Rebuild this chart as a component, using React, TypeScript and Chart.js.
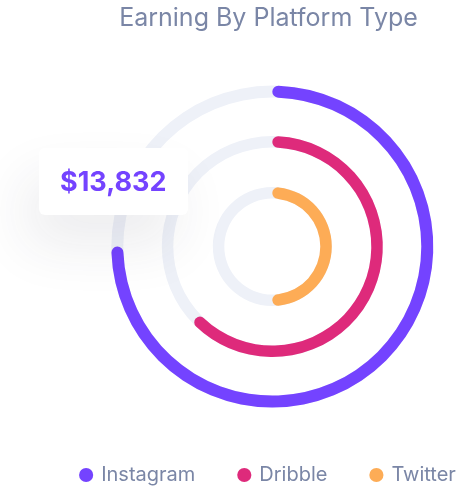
import React, { useEffect, useRef } from 'react';
import { Chart, registerables, layouts } from 'chart.js';

Chart.register(...registerables);

// ---- data ----
const TITLE = 'Earning By Platform Type';
const PLATFORMS = ['Instagram', 'Dribble', 'Twitter'];
const VALUES = [75, 63, 50];
const MAX_VALUE = 100;
const TOOLTIP_VALUE = '$13,832';

// ---- styles ----
const COLORS = ['#7443FF', '#DE2A7B', '#FDAC56'];
const TRACK = '#EEF1F8';
const TEXT = '#7A86A6';
const RING_WEIGHTS = [12, 11.5, 11.5];
const GAP_WEIGHTS = [38.5, 39.5];
const OUTER_RADIUS = 161;
const INNER_RADIUS = 48;
const CANVAS_W = 537;
const CANVAS_H = 495;
const SHIFT = 7.6;

const trackPlugin = {
  id: 'ringTracks',
  beforeDatasetsDraw(chart: any) {
    const ctx = chart.ctx;
    chart.data.datasets.forEach((ds: any, i: number) => {
      if (ds.spacer) return;
      const arc = chart.getDatasetMeta(i).data[0];
      if (!arc) return;
      const { x, y, innerRadius, outerRadius } = arc.getProps(['x', 'y', 'innerRadius', 'outerRadius'], true);
      ctx.save();
      ctx.beginPath();
      ctx.arc(x, y, outerRadius, 0, Math.PI * 2);
      ctx.arc(x, y, innerRadius, Math.PI * 2, 0, true);
      ctx.closePath();
      ctx.fillStyle = TRACK;
      ctx.fill();
      ctx.restore();
    });
  },
};

const shiftPlugin = {
  id: 'leftShift',
  beforeInit(chart: any) {
    const box: any = {
      position: 'left',
      weight: 0,
      fullSize: false,
      options: {},
      width: 0,
      height: 0,
      top: 0,
      left: 0,
      right: 0,
      bottom: 0,
      isHorizontal: () => false,
      update(_w: number, h: number) {
        box.width = SHIFT;
        box.height = h;
      },
      draw() {},
    };
    layouts.addBox(chart, box);
  },
};

const tooltipPlugin = {
  id: 'staticTooltip',
  afterDraw(chart: any) {
    const ctx = chart.ctx;
    const bx = 39, by = 148, bw = 149, bh = 67, r = 6;
    ctx.save();
    ctx.shadowColor = 'rgba(40, 40, 70, 0.09)';
    ctx.shadowBlur = 55;
    ctx.shadowOffsetX = -12;
    ctx.shadowOffsetY = 30;
    ctx.beginPath();
    ctx.roundRect(bx, by, bw, bh, r);
    ctx.fillStyle = '#ffffff';
    ctx.fill();
    ctx.restore();
    ctx.save();
    ctx.font = 'bold 27px Inter';
    ctx.fillStyle = COLORS[0];
    ctx.textBaseline = 'alphabetic';
    ctx.textAlign = 'left';
    ctx.fillText(TOOLTIP_VALUE, 60, 191);
    ctx.restore();
  },
};

export default function App() {
  const ref = useRef<HTMLCanvasElement | null>(null);

  useEffect(() => {
    if (!ref.current) return;
    const datasets: any[] = [];
    PLATFORMS.forEach((name, i) => {
      if (i > 0) {
        datasets.push({
          label: '',
          spacer: true,
          data: [1],
          backgroundColor: ['rgba(0,0,0,0)'],
          borderWidth: 0,
          weight: GAP_WEIGHTS[i - 1],
        });
      }
      datasets.push({
        label: name,
        data: [VALUES[i], MAX_VALUE - VALUES[i]],
        backgroundColor: [COLORS[i], 'rgba(0,0,0,0)'],
        borderWidth: 0,
        borderRadius: (c: any) => (c.dataIndex === 0 ? 20 : 0),
        weight: RING_WEIGHTS[i],
      });
    });

    const chart = new Chart(ref.current, {
      type: 'doughnut',
      data: { labels: ['value', 'rest'], datasets },
      options: {
        responsive: false,
        animation: false,
        events: [],
        radius: OUTER_RADIUS,
        cutout: `${(INNER_RADIUS / OUTER_RADIUS) * 100}%`,
        layout: { padding: 0 },
        plugins: {
          tooltip: { enabled: false },
          title: {
            display: true,
            text: TITLE,
            color: TEXT,
            font: { family: 'Inter', size: 25, weight: 'normal' },
            padding: { top: 3.4, bottom: 38.7 },
          },
          legend: {
            display: true,
            position: 'bottom',
            labels: {
              usePointStyle: true,
              pointStyle: 'circle',
              boxWidth: 10,
              boxHeight: 10,
              padding: 44,
              color: TEXT,
              font: { family: 'Inter', size: 20 },
              generateLabels: () =>
                PLATFORMS.map((name, i) => ({
                  text: name,
                  fillStyle: COLORS[i],
                  strokeStyle: COLORS[i],
                  lineWidth: 0,
                  pointStyle: 'circle',
                  hidden: false,
                  fontColor: TEXT,
                })),
            },
          },
        },
      } as any,
      plugins: [shiftPlugin, trackPlugin, tooltipPlugin],
    });
    return () => chart.destroy();
  }, []);

  return (
    <div style={{ position: 'fixed', left: 0, top: 0, width: 457, height: 486, overflow: 'hidden', background: '#fff' }}>
      <canvas ref={ref} width={CANVAS_W} height={CANVAS_H} style={{ display: 'block' }} />
    </div>
  );
}
